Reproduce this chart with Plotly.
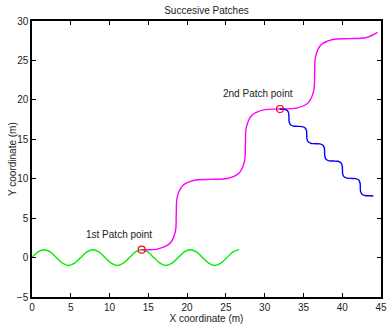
import plotly.graph_objects as go

# Green sine (first patch)
green_x = [0, 0.79, 1.57, 2.36, 3.14, 3.93, 4.71, 5.50, 6.28, 7.07, 7.85, 8.64, 9.42, 10.21,
           11.00, 11.78, 12.57, 13.35, 14.14, 14.92, 15.71, 16.49, 17.28, 18.06, 18.85, 19.63,
           20.42, 21.21, 21.99, 22.78, 23.56, 24.35, 25.13, 25.92, 26.70]
green_y = [0, 0.71, 1, 0.71, 0, -0.71, -1, -0.71, 0, 0.71, 1, 0.71, 0, -0.71, -1, -0.71, 0,
           0.71, 1, 0.71, 0, -0.71, -1, -0.71, 0, 0.71, 1, 0.71, 0, -0.71, -1, -0.71, 0, 0.71, 1]

# Magenta staircase (second patch)
magenta_x = [14.14, 16.26, 17.79, 18.49, 18.60, 18.71, 19.41, 20.94,
             23.06, 25.18, 26.71, 27.41, 27.52, 27.63, 28.33, 29.86,
             31.98, 34.10, 35.63, 36.33, 36.44, 36.55, 37.25, 38.78,
             40.90, 43.02, 44.55]
magenta_y = [1.00, 1.11, 1.81, 3.34, 5.46, 7.58, 9.11, 9.81,
             9.92, 10.03, 10.73, 12.26, 14.38, 16.50, 18.03, 18.73,
             18.84, 18.95, 19.65, 21.18, 23.30, 25.42, 26.95, 27.65,
             27.76, 27.87, 28.57]

# Blue staircase (third patch)
blue_x = [31.98, 32.53, 32.92, 33.10, 33.13, 33.16, 33.34, 33.73,
          34.28, 34.83, 35.22, 35.40, 35.43, 35.46, 35.64, 36.03,
          36.58, 37.13, 37.52, 37.70, 37.73, 37.76, 37.94, 38.33,
          38.88, 39.43, 39.82, 40.00, 40.03, 40.06, 40.24, 40.63,
          41.18, 41.73, 42.12, 42.30, 42.33, 42.36, 42.54, 42.93,
          43.48, 44.03]
blue_y = [18.84, 18.81, 18.64, 18.26, 17.74, 17.22, 16.84, 16.67,
          16.64, 16.61, 16.44, 16.06, 15.54, 15.02, 14.64, 14.47,
          14.44, 14.41, 14.24, 13.86, 13.34, 12.82, 12.44, 12.27,
          12.24, 12.21, 12.04, 11.66, 11.14, 10.62, 10.24, 10.07,
          10.04, 10.01, 9.84, 9.46, 8.94, 8.42, 8.04, 7.87,
          7.84, 7.81]

# Patch points
patch_x = [14.14, 31.98]
patch_y = [1.00, 18.84]
patch_labels = ["1st Patch point", "2nd Patch point"]
label_x = [11.2, 29.2]
label_y = [2.9, 20.8]

x_ticks = [0, 5, 10, 15, 20, 25, 30, 35, 40, 45]
y_ticks = [-5, 0, 5, 10, 15, 20, 25, 30]

FONT = "Liberation Sans, Arial, Helvetica, sans-serif"
TXT = "#222222"

fig = go.Figure()
fig.add_trace(go.Scatter(x=green_x, y=green_y, mode="lines",
                         line=dict(color="#00ee00", width=1.4, shape="spline", smoothing=1.0),
                         showlegend=False))
fig.add_trace(go.Scatter(x=magenta_x, y=magenta_y, mode="lines",
                         line=dict(color="#ff00ff", width=1.4, shape="spline", smoothing=0.9),
                         showlegend=False))
fig.add_trace(go.Scatter(x=blue_x, y=blue_y, mode="lines",
                         line=dict(color="#0000ff", width=1.4, shape="spline", smoothing=0.9),
                         showlegend=False))
fig.add_trace(go.Scatter(x=patch_x, y=patch_y, mode="markers",
                         marker=dict(symbol="circle-open", size=7, color="#ff0000",
                                     line=dict(width=1.2, color="#ff0000")),
                         showlegend=False))

for tx, ty, t in zip(label_x, label_y, patch_labels):
    fig.add_annotation(x=tx, y=ty, text=t, showarrow=False,
                       font=dict(family=FONT, size=10, color=TXT))

# Y axis title placed like the reference
fig.add_annotation(x=(12 - 32) / 349, y=0.5, xref="paper", yref="paper",
                   text="Y coordinate (m)", textangle=-90, showarrow=False,
                   xanchor="center", yanchor="middle",
                   font=dict(family=FONT, size=10, color=TXT))

axis_common = dict(showgrid=False, zeroline=False, showline=True, mirror="ticks",
                   linecolor="black", linewidth=1.5, ticks="inside", ticklen=4,
                   tickwidth=1, tickcolor="black",
                   tickfont=dict(family=FONT, size=10, color=TXT))

fig.update_xaxes(range=[0, 45], tickvals=x_ticks,
                 title=dict(text="X coordinate (m)", standoff=2,
                            font=dict(family=FONT, size=10, color=TXT)),
                 **axis_common)
fig.update_yaxes(range=[-5, 30], tickvals=y_ticks, **axis_common)

fig.update_layout(
    width=387, height=324,
    margin=dict(l=32, r=6, t=21, b=27, autoexpand=False),
    paper_bgcolor="white", plot_bgcolor="white",
    title=dict(text="Succesive Patches", x=0.5335, xanchor="center",
               y=1 - 10 / 324, yanchor="middle", yref="container",
               font=dict(family=FONT, size=10, color=TXT)),
    font=dict(family=FONT, size=10, color=TXT),
)

fig.write_html("out.html", config={"displayModeBar": False},
               post_script="document.body.style.margin='0';document.body.style.padding='0';")
